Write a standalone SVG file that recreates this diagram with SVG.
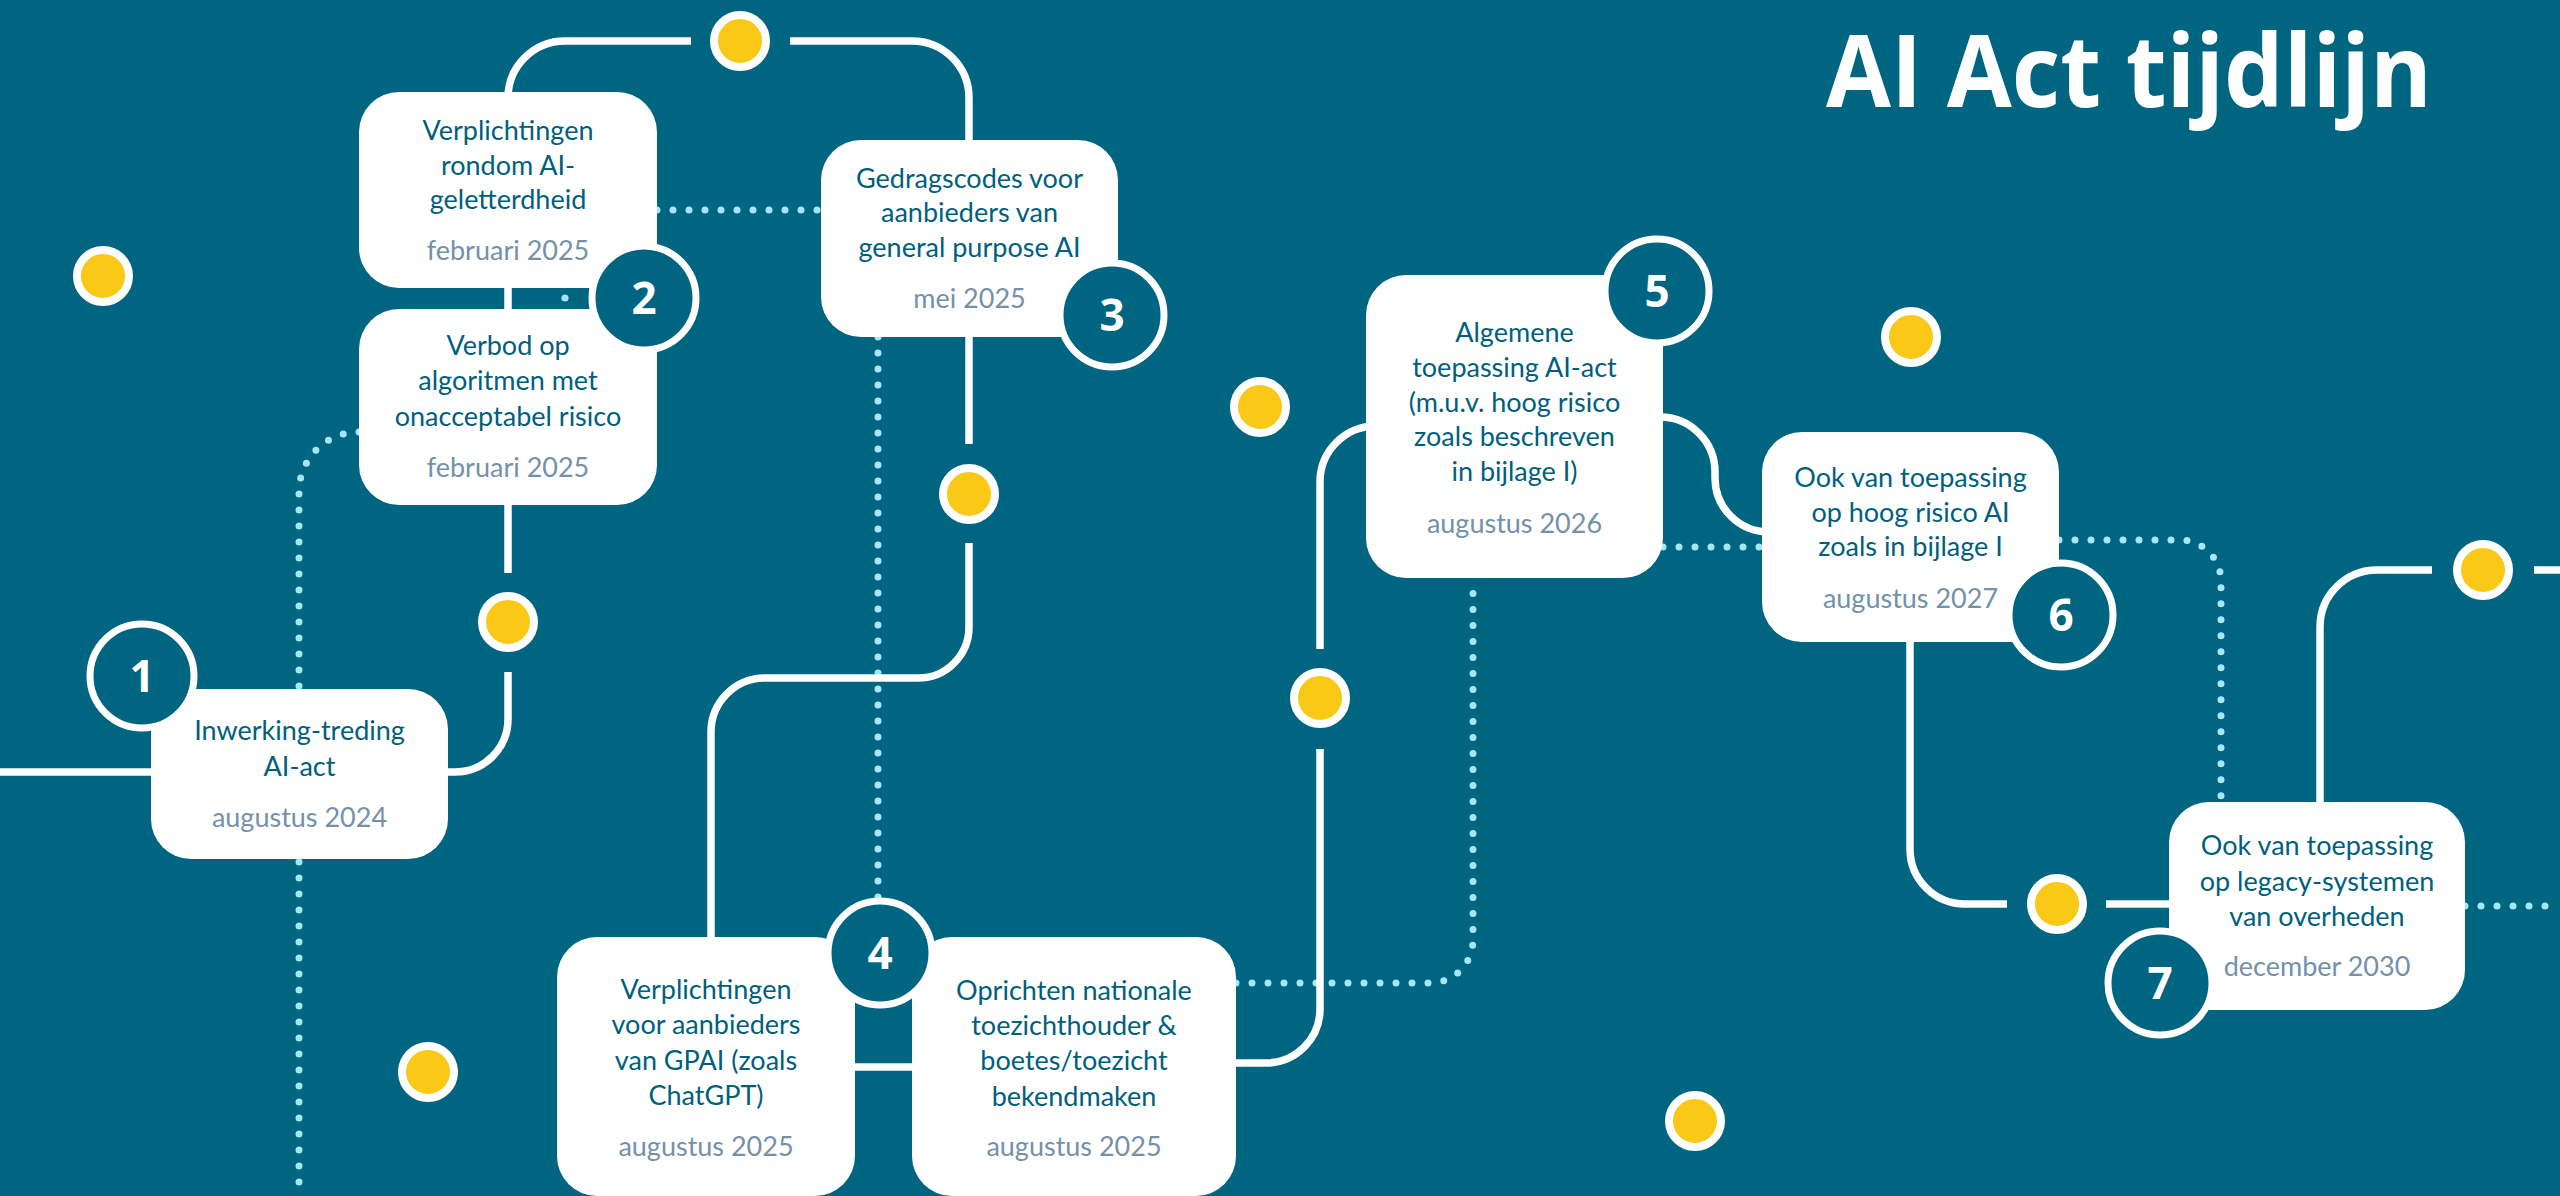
<svg xmlns="http://www.w3.org/2000/svg" width="2560" height="1196" viewBox="0 0 2560 1196">
<style>
.bg{fill:#006580}
.box{fill:#ffffff}
.t{font-family:Lato,"Open Sans",sans-serif;font-size:27px;fill:#005F7C;text-anchor:middle}
.d{font-family:Lato,"Open Sans",sans-serif;font-size:27px;fill:#7391AA;text-anchor:middle}
.num{font-family:"Open Sans",sans-serif;font-weight:700;font-size:44px;fill:#ffffff;text-anchor:middle}
.ring{fill:#006580;stroke:#ffffff;stroke-width:7}
.line{fill:none;stroke:#ffffff;stroke-width:7.5}
.dots{fill:none;stroke:#A6E6F7;stroke-width:7;stroke-linecap:round;stroke-dasharray:0 16}
.yd{fill:#FAC817;stroke:#ffffff;stroke-width:8}
.title{font-family:"Open Sans",sans-serif;font-weight:700;font-size:100px;fill:#ffffff}
</style>
<rect class="bg" x="0" y="0" width="2560" height="1196"/>
<text class="title" x="1826" y="107" textLength="606" lengthAdjust="spacingAndGlyphs">AI Act tijdlijn</text>

<g id="connectors">
  <path class="dots" d="M657,210 H821"/>
  <path class="dots" d="M359,432 A60,60 0 0 0 299,492 V1196"/>
  <path class="dots" d="M878,337 V900"/>
  <path class="dots" d="M1236,983 H1430 A43,43 0 0 0 1473,940 V578"/>
  <path class="dots" d="M1663,547 H1762"/>
  <path class="dots" d="M2059,540 H2180 A41,41 0 0 1 2221,581 V802"/>
  <path class="dots" d="M2465,906 H2560"/>
  <circle cx="565" cy="298" r="3.6" fill="#A6E6F7"/>

  <path class="line" d="M0,772 H151"/>
  <path class="line" d="M448,772 H455 A53,53 0 0 0 508,719 V672"/>
  <path class="line" d="M508,573 V505"/>
  <path class="line" d="M508,285 V312"/>
  <path class="line" d="M508,95 V98 A57,57 0 0 1 565,41 H691"/>
  <path class="line" d="M790,41 H912 A57,57 0 0 1 969,98 V140"/>
  <path class="line" d="M969,337 V444"/>
  <path class="line" d="M969,543 V627 A51,51 0 0 1 918,678 H765 A54,54 0 0 0 711,732 V937"/>
  <path class="line" d="M855,1067 H913"/>
  <path class="line" d="M1236,1063 H1266 A54,54 0 0 0 1320,1009 V749"/>
  <path class="line" d="M1320,649 V482 A56,56 0 0 1 1376,426"/>
  <path class="line" d="M1660,417 A55,55 0 0 1 1715,472 V478 A54,54 0 0 0 1769,532"/>
  <path class="line" d="M1910,642 V849 A55,55 0 0 0 1965,904 H2007"/>
  <path class="line" d="M2106,904 H2169"/>
  <path class="line" d="M2320,802 V627 A57,57 0 0 1 2377,570 H2432"/>
  <path class="line" d="M2534,570 H2560"/>
</g>

<g id="yellow-dots">
  <circle class="yd" cx="740" cy="41" r="26"/>
  <circle class="yd" cx="508" cy="622" r="26"/>
  <circle class="yd" cx="969" cy="494" r="26"/>
  <circle class="yd" cx="1320" cy="698" r="26"/>
  <circle class="yd" cx="2057" cy="904" r="26"/>
  <circle class="yd" cx="2483" cy="570" r="26"/>
  <circle class="yd" cx="103" cy="276" r="26"/>
  <circle class="yd" cx="428" cy="1072" r="26"/>
  <circle class="yd" cx="1260" cy="407" r="26"/>
  <circle class="yd" cx="1695" cy="1121" r="26"/>
  <circle class="yd" cx="1911" cy="337" r="26"/>
</g>

<g id="node1">
  <rect class="box" x="151" y="689" width="297" height="170" rx="40"/>
  <text class="t" x="299.5" y="740">Inwerking-treding</text>
  <text class="t" x="299.5" y="776">AI-act</text>
  <text class="d" x="299.5" y="827">augustus 2024</text>
  <circle class="ring" cx="142" cy="676" r="52"/>
  <text class="num" x="142" y="692">1</text>
</g>

<g id="node2a">
  <rect class="box" x="359" y="92" width="298" height="196" rx="40"/>
  <text class="t" x="508" y="140">Verplichtingen</text>
  <text class="t" x="508" y="174.5">rondom AI-</text>
  <text class="t" x="508" y="209">geletterdheid</text>
  <text class="d" x="508" y="260">februari 2025</text>
</g>

<g id="node2b">
  <rect class="box" x="359" y="309" width="298" height="196" rx="40"/>
  <text class="t" x="508" y="355">Verbod op</text>
  <text class="t" x="508" y="390">algoritmen met</text>
  <text class="t" x="508" y="425.5">onacceptabel risico</text>
  <text class="d" x="508" y="476.5">februari 2025</text>
</g>

<g id="badge2">
  <circle class="ring" cx="644" cy="298" r="52"/>
  <text class="num" x="644" y="314">2</text>
</g>

<g id="node3">
  <rect class="box" x="821" y="140" width="297" height="197" rx="40"/>
  <text class="t" x="969.5" y="187.5">Gedragscodes voor</text>
  <text class="t" x="969.5" y="222">aanbieders van</text>
  <text class="t" x="969.5" y="256.5">general purpose AI</text>
  <text class="d" x="969.5" y="308">mei 2025</text>
  <circle class="ring" cx="1112" cy="315" r="52"/>
  <text class="num" x="1112" y="331">3</text>
</g>

<g id="node4a">
  <rect class="box" x="557" y="937" width="298" height="259" rx="40"/>
  <text class="t" x="706" y="999">Verplichtingen</text>
  <text class="t" x="706" y="1034">voor aanbieders</text>
  <text class="t" x="706" y="1069.5">van GPAI (zoals</text>
  <text class="t" x="706" y="1105">ChatGPT)</text>
  <text class="d" x="706" y="1156">augustus 2025</text>
</g>

<g id="node4b">
  <rect class="box" x="912" y="937" width="324" height="259" rx="40"/>
  <text class="t" x="1074" y="999.5">Oprichten nationale</text>
  <text class="t" x="1074" y="1035">toezichthouder &amp;</text>
  <text class="t" x="1074" y="1070">boetes/toezicht</text>
  <text class="t" x="1074" y="1105.5">bekendmaken</text>
  <text class="d" x="1074" y="1156">augustus 2025</text>
</g>

<g id="badge4">
  <circle class="ring" cx="880" cy="953" r="52"/>
  <text class="num" x="880" y="969">4</text>
</g>

<g id="node5">
  <rect class="box" x="1366" y="275" width="297" height="303" rx="40"/>
  <text class="t" x="1514.5" y="342">Algemene</text>
  <text class="t" x="1514.5" y="377">toepassing AI-act</text>
  <text class="t" x="1514.5" y="411.5">(m.u.v. hoog risico</text>
  <text class="t" x="1514.5" y="446">zoals beschreven</text>
  <text class="t" x="1514.5" y="480.5">in bijlage I)</text>
  <text class="d" x="1514.5" y="533">augustus 2026</text>
  <circle class="ring" cx="1657" cy="291" r="52"/>
  <text class="num" x="1657" y="307">5</text>
</g>

<g id="node6">
  <rect class="box" x="1762" y="432" width="297" height="210" rx="40"/>
  <text class="t" x="1910.5" y="487">Ook van toepassing</text>
  <text class="t" x="1910.5" y="521.5">op hoog risico AI</text>
  <text class="t" x="1910.5" y="556">zoals in bijlage I</text>
  <text class="d" x="1910.5" y="608">augustus 2027</text>
  <circle class="ring" cx="2061" cy="615" r="52"/>
  <text class="num" x="2061" y="631">6</text>
</g>

<g id="node7">
  <rect class="box" x="2169" y="802" width="296" height="208" rx="40"/>
  <text class="t" x="2317" y="855">Ook van toepassing</text>
  <text class="t" x="2317" y="890.5">op legacy-systemen</text>
  <text class="t" x="2317" y="926">van overheden</text>
  <text class="d" x="2317" y="976">december 2030</text>
  <circle class="ring" cx="2160" cy="983" r="52"/>
  <text class="num" x="2160" y="999">7</text>
</g>
</svg>
